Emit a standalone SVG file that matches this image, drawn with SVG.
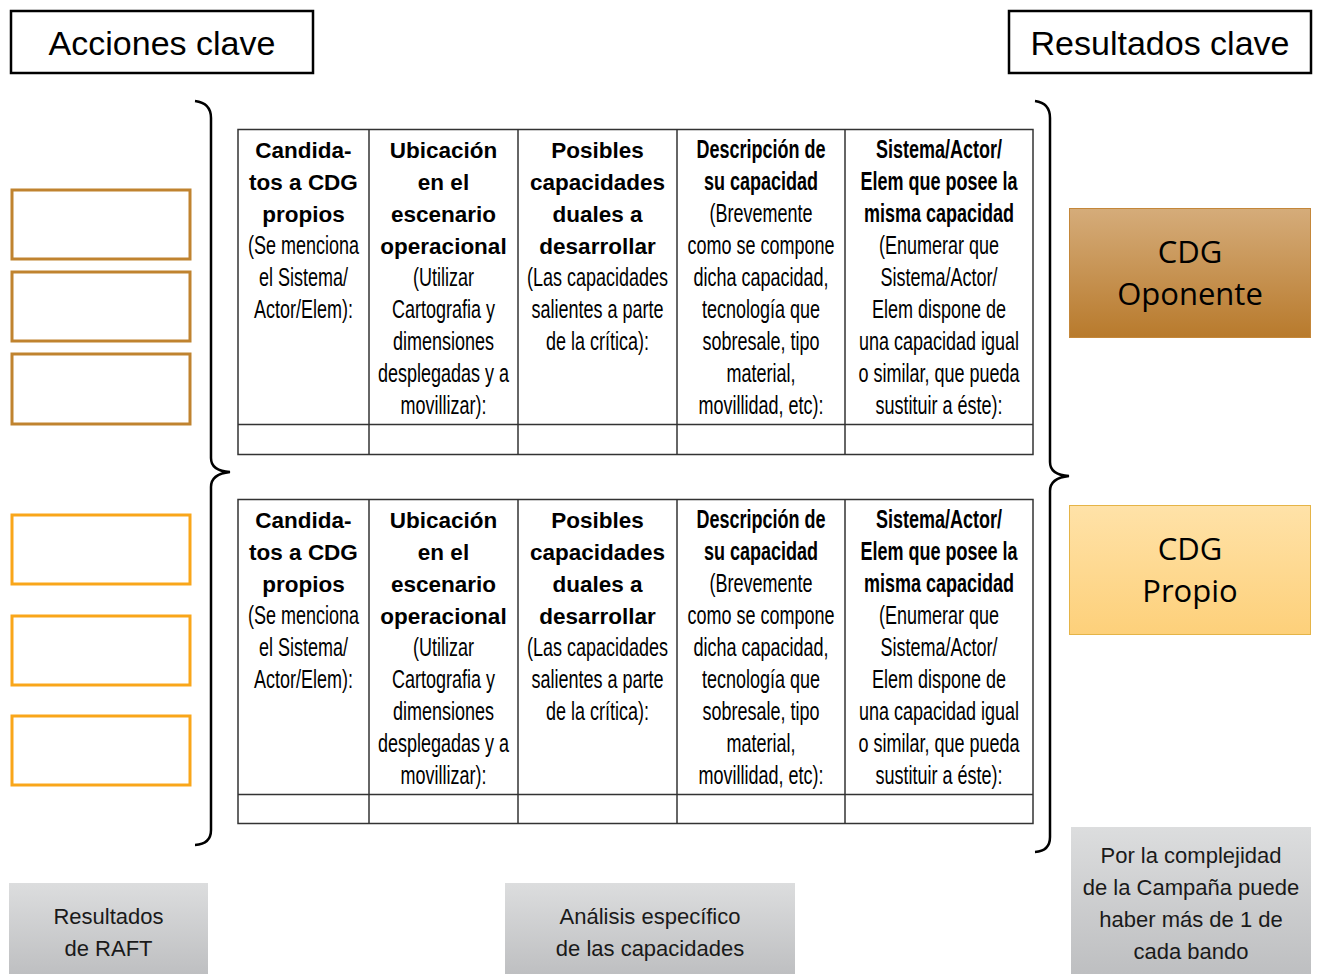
<svg xmlns="http://www.w3.org/2000/svg" width="1318" height="974" viewBox="0 0 1318 974">
<defs>
<linearGradient id="gOp" x1="0" y1="0" x2="0" y2="1"><stop offset="0" stop-color="#D5AC7A"/><stop offset="1" stop-color="#B87A2C"/></linearGradient>
<linearGradient id="gPr" x1="0" y1="0" x2="0" y2="1"><stop offset="0" stop-color="#FFE2A8"/><stop offset="1" stop-color="#FDD07A"/></linearGradient>
<linearGradient id="gGr" x1="0" y1="0" x2="0" y2="1"><stop offset="0" stop-color="#DCDDDE"/><stop offset="1" stop-color="#BDBEC0"/></linearGradient>
<style>
.hdr{fill:#fff;stroke:#000;stroke-width:2.5}
.hdrt{font-family:"Liberation Sans",Arial,sans-serif;font-size:34px;fill:#000;text-anchor:middle}
.brace{fill:none;stroke:#000;stroke-width:2.5}
.tbl{fill:#fff;stroke:#333;stroke-width:1.5}
.ln{stroke:#333;stroke-width:1.5}
.t{font-family:"Liberation Sans",Arial,sans-serif;font-size:25px;fill:#000;text-anchor:middle}
.tb{font-family:"Liberation Sans",Arial,sans-serif;font-size:22.5px;font-weight:bold;fill:#000;text-anchor:middle}
.b{font-weight:bold}
.ob1{fill:#fff;stroke:#C0832F;stroke-width:3}
.ob2{fill:#fff;stroke:#F9A61A;stroke-width:3}
.cdg{font-family:"Open Sans","Liberation Sans",sans-serif;font-size:31px;fill:#000;text-anchor:middle}
.gt{font-family:"Liberation Sans",Arial,sans-serif;font-size:22px;fill:#1a1a1a;text-anchor:middle}
</style>
</defs>
<rect width="1318" height="974" fill="#fff"/>

<g id="acciones-clave">
<rect class="hdr" x="11" y="11" width="302" height="62"/>
<text class="hdrt" x="162" y="55">Acciones clave</text>
</g>
<g id="resultados-clave">
<rect class="hdr" x="1009" y="11" width="302" height="62"/>
<text class="hdrt" x="1160" y="55">Resultados clave</text>
</g>

<g id="connectors">
<path class="brace" d="M195,101 Q211,103 211,118 L211,458 Q211,471 230,472 Q211,474 211,487 L211,830 Q211,844 195,845"/>
<path class="brace" d="M1035,101 Q1050,103 1050,118 L1050,462 Q1050,475 1069,476 Q1050,478 1050,491 L1050,837 Q1050,851 1035,852"/>
</g>

<g id="orange-boxes-top">
<rect class="ob1" x="12" y="190" width="178" height="69"/>
<rect class="ob1" x="12" y="272" width="178" height="69"/>
<rect class="ob1" x="12" y="354" width="178" height="70"/>
</g>
<g id="orange-boxes-bottom">
<rect class="ob2" x="12" y="515" width="178" height="69"/>
<rect class="ob2" x="12" y="616" width="178" height="69"/>
<rect class="ob2" x="12" y="716" width="178" height="69"/>
</g>

<g id="table-1">
<rect class="tbl" x="238" y="129.5" width="795" height="325"/>
<line class="ln" x1="238" y1="424.5" x2="1033" y2="424.5"/>
<line class="ln" x1="369" y1="129.5" x2="369" y2="454.5"/>
<line class="ln" x1="518" y1="129.5" x2="518" y2="454.5"/>
<line class="ln" x1="677" y1="129.5" x2="677" y2="454.5"/>
<line class="ln" x1="845" y1="129.5" x2="845" y2="454.5"/>
<text class="tb" x="303.5" y="158"><tspan x="303.5">Candida-</tspan><tspan x="303.5" dy="32">tos a CDG</tspan><tspan x="303.5" dy="32">propios</tspan></text>
<text class="t" transform="translate(303.5,0) scale(0.72,1)" x="0" y="254"><tspan x="0">(Se menciona</tspan><tspan x="0" dy="32">el Sistema/</tspan><tspan x="0" dy="32">Actor/Elem):</tspan></text>
<text class="tb" x="443.5" y="158"><tspan x="443.5">Ubicación</tspan><tspan x="443.5" dy="32">en el</tspan><tspan x="443.5" dy="32">escenario</tspan><tspan x="443.5" dy="32">operacional</tspan></text>
<text class="t" transform="translate(443.5,0) scale(0.72,1)" x="0" y="286"><tspan x="0">(Utilizar</tspan><tspan x="0" dy="32">Cartografia y</tspan><tspan x="0" dy="32">dimensiones</tspan><tspan x="0" dy="32">desplegadas y a</tspan><tspan x="0" dy="32">movillizar):</tspan></text>
<text class="tb" x="597.5" y="158"><tspan x="597.5">Posibles</tspan><tspan x="597.5" dy="32">capacidades</tspan><tspan x="597.5" dy="32">duales a</tspan><tspan x="597.5" dy="32">desarrollar</tspan></text>
<text class="t" transform="translate(597.5,0) scale(0.72,1)" x="0" y="286"><tspan x="0">(Las capacidades</tspan><tspan x="0" dy="32">salientes a parte</tspan><tspan x="0" dy="32">de la crítica):</tspan></text>
<text class="t" transform="translate(761,0) scale(0.72,1)" x="0" y="158"><tspan class="b" x="0">Descripción de</tspan><tspan class="b" x="0" dy="32">su capacidad</tspan><tspan x="0" dy="32">(Brevemente</tspan><tspan x="0" dy="32">como se compone</tspan><tspan x="0" dy="32">dicha capacidad,</tspan><tspan x="0" dy="32">tecnología que</tspan><tspan x="0" dy="32">sobresale, tipo</tspan><tspan x="0" dy="32">material,</tspan><tspan x="0" dy="32">movillidad, etc):</tspan></text>
<text class="t" transform="translate(939,0) scale(0.72,1)" x="0" y="158"><tspan class="b" x="0">Sistema/Actor/</tspan><tspan class="b" x="0" dy="32">Elem que posee la</tspan><tspan class="b" x="0" dy="32">misma capacidad</tspan><tspan x="0" dy="32">(Enumerar que</tspan><tspan x="0" dy="32">Sistema/Actor/</tspan><tspan x="0" dy="32">Elem dispone de</tspan><tspan x="0" dy="32">una capacidad igual</tspan><tspan x="0" dy="32">o similar, que pueda</tspan><tspan x="0" dy="32">sustituir a éste):</tspan></text>
</g>

<g id="table-2">
<rect class="tbl" x="238" y="499.5" width="795" height="324"/>
<line class="ln" x1="238" y1="794.5" x2="1033" y2="794.5"/>
<line class="ln" x1="369" y1="499.5" x2="369" y2="823.5"/>
<line class="ln" x1="518" y1="499.5" x2="518" y2="823.5"/>
<line class="ln" x1="677" y1="499.5" x2="677" y2="823.5"/>
<line class="ln" x1="845" y1="499.5" x2="845" y2="823.5"/>
<text class="tb" x="303.5" y="528"><tspan x="303.5">Candida-</tspan><tspan x="303.5" dy="32">tos a CDG</tspan><tspan x="303.5" dy="32">propios</tspan></text>
<text class="t" transform="translate(303.5,0) scale(0.72,1)" x="0" y="624"><tspan x="0">(Se menciona</tspan><tspan x="0" dy="32">el Sistema/</tspan><tspan x="0" dy="32">Actor/Elem):</tspan></text>
<text class="tb" x="443.5" y="528"><tspan x="443.5">Ubicación</tspan><tspan x="443.5" dy="32">en el</tspan><tspan x="443.5" dy="32">escenario</tspan><tspan x="443.5" dy="32">operacional</tspan></text>
<text class="t" transform="translate(443.5,0) scale(0.72,1)" x="0" y="656"><tspan x="0">(Utilizar</tspan><tspan x="0" dy="32">Cartografia y</tspan><tspan x="0" dy="32">dimensiones</tspan><tspan x="0" dy="32">desplegadas y a</tspan><tspan x="0" dy="32">movillizar):</tspan></text>
<text class="tb" x="597.5" y="528"><tspan x="597.5">Posibles</tspan><tspan x="597.5" dy="32">capacidades</tspan><tspan x="597.5" dy="32">duales a</tspan><tspan x="597.5" dy="32">desarrollar</tspan></text>
<text class="t" transform="translate(597.5,0) scale(0.72,1)" x="0" y="656"><tspan x="0">(Las capacidades</tspan><tspan x="0" dy="32">salientes a parte</tspan><tspan x="0" dy="32">de la crítica):</tspan></text>
<text class="t" transform="translate(761,0) scale(0.72,1)" x="0" y="528"><tspan class="b" x="0">Descripción de</tspan><tspan class="b" x="0" dy="32">su capacidad</tspan><tspan x="0" dy="32">(Brevemente</tspan><tspan x="0" dy="32">como se compone</tspan><tspan x="0" dy="32">dicha capacidad,</tspan><tspan x="0" dy="32">tecnología que</tspan><tspan x="0" dy="32">sobresale, tipo</tspan><tspan x="0" dy="32">material,</tspan><tspan x="0" dy="32">movillidad, etc):</tspan></text>
<text class="t" transform="translate(939,0) scale(0.72,1)" x="0" y="528"><tspan class="b" x="0">Sistema/Actor/</tspan><tspan class="b" x="0" dy="32">Elem que posee la</tspan><tspan class="b" x="0" dy="32">misma capacidad</tspan><tspan x="0" dy="32">(Enumerar que</tspan><tspan x="0" dy="32">Sistema/Actor/</tspan><tspan x="0" dy="32">Elem dispone de</tspan><tspan x="0" dy="32">una capacidad igual</tspan><tspan x="0" dy="32">o similar, que pueda</tspan><tspan x="0" dy="32">sustituir a éste):</tspan></text>
</g>

<g id="cdg-oponente">
<rect x="1069.5" y="208.5" width="241" height="129" fill="url(#gOp)" stroke="#C4873A" stroke-width="1"/>
<text class="cdg" x="1190" y="263">CDG</text>
<text class="cdg" x="1190" y="305">Oponente</text>
</g>
<g id="cdg-propio">
<rect x="1069.5" y="505.5" width="241" height="129" fill="url(#gPr)" stroke="#E5B447" stroke-width="1"/>
<text class="cdg" x="1190" y="560">CDG</text>
<text class="cdg" x="1190" y="602">Propio</text>
</g>

<g id="resultados-raft">
<rect x="9" y="883" width="199" height="95" fill="url(#gGr)"/>
<text class="gt" x="108.5" y="924">Resultados</text>
<text class="gt" x="108.5" y="956">de RAFT</text>
</g>
<g id="analisis-especifico">
<rect x="505" y="883" width="290" height="95" fill="url(#gGr)"/>
<text class="gt" x="650" y="924">Análisis específico</text>
<text class="gt" x="650" y="956">de las capacidades</text>
</g>
<g id="complejidad">
<rect x="1071" y="827" width="240" height="151" fill="url(#gGr)"/>
<text class="gt" x="1191" y="863">Por la complejidad</text>
<text class="gt" x="1191" y="895">de la Campaña puede</text>
<text class="gt" x="1191" y="927">haber más de 1 de</text>
<text class="gt" x="1191" y="959">cada bando</text>
</g>
</svg>
